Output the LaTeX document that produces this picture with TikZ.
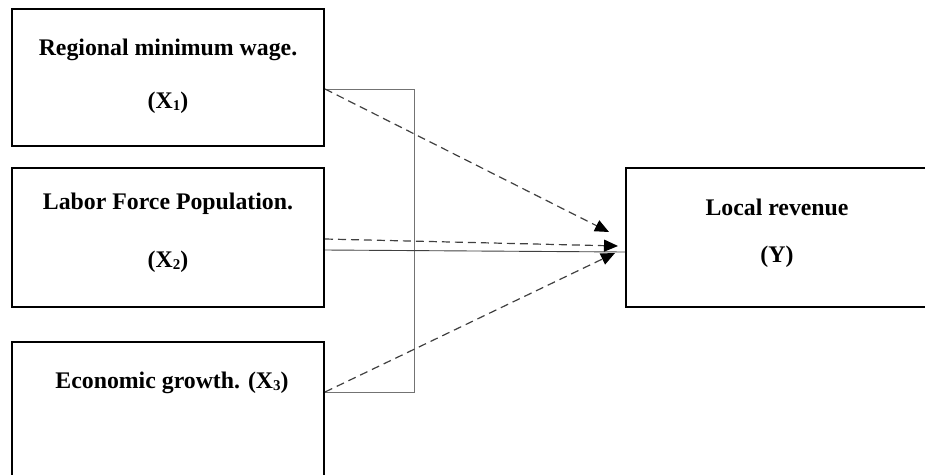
\documentclass[tikz,border=0pt]{standalone}
\usepackage{fontspec}
\setmainfont{Liberation Serif}
\usetikzlibrary{arrows.meta}

\newcommand{\varsub}[1]{\raisebox{-0.15ex}{\fontsize{15}{15}\selectfont #1}}

\tikzset{
    varbox/.style={draw=black, line width=2pt, minimum width=312pt, inner sep=0pt},
    vartext/.style={font=\fontsize{23.8}{27}\selectfont\bfseries, inner sep=0pt},
    bracket/.style={draw=black!55, line width=0.9pt},
    effect/.style={draw=black!75, line width=1.2pt, dash pattern=on 8pt off 5pt,
        -{Triangle[length=14pt, width=12pt, color=black]}},
}

\begin{document}
\begin{tikzpicture}[x=1pt, y=-1pt]
        % Marco de la figura
        \useasboundingbox (0,0) rectangle (925,474);

        % Cajas de las variables
        \node[varbox, minimum height=137pt] (X1) at (168,77.5) {};
        \node[varbox, minimum height=139pt] (X2) at (168,237.5) {};
        \node[varbox, minimum height=140pt] (X3) at (168,412) {};
        \node[varbox, minimum width=302pt, minimum height=139pt] (Y) at (777,237.5) {};

        % Textos de las cajas
        \node[vartext] (t1) at (168,50) {Regional minimum wage.};
        \node[vartext] (s1) at (168,103) {(X\varsub{1})};
        \node[vartext] (t2) at (168,204) {Labor Force Population.};
        \node[vartext] (s2) at (168,262) {(X\varsub{2})};
        \node[vartext] (t3) at (172,383) {Economic growth. (X\varsub{3})};
        \node[vartext] (tY) at (777,207) {Local revenue};
        \node[vartext] (sY) at (777,257) {(Y)};

        % Puntos de salida y llegada
        \coordinate (a1) at (X1.east |- 0,89);
        \coordinate (a2) at (X2.east |- 0,239);
        \coordinate (a3) at (X3.east |- 0,392);
        \coordinate (b2) at (X2.east |- 0,250);
        \coordinate (c1) at (414,89);
        \coordinate (c3) at (414,392);
        \coordinate (e1) at (609,232);
        \coordinate (e2) at (618,246);
        \coordinate (e3) at (615,253);

        % Corchete y linea continua
        \draw[bracket] (a1) -- (c1) -- (c3) -- (a3);
        \draw[bracket, draw=black!75] (b2) -- (Y.west |- 0,252);

        % Flechas discontinuas hacia Y
        \draw[effect] (a1) -- (e1);
        \draw[effect] (a2) -- (e2);
        \draw[effect] (a3) -- (e3);
    \end{tikzpicture}
\end{document}
